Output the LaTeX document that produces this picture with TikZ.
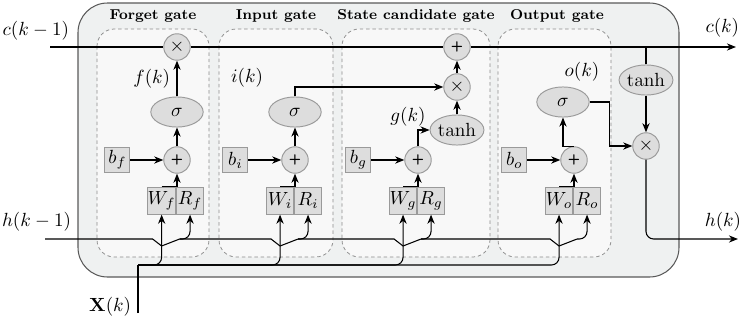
\documentclass[tikz,border=0pt]{standalone}
\usepackage{amsmath}
\usepackage{amssymb}
\usepackage{xcolor}
\usepackage{tikz}
\usetikzlibrary{shapes.geometric, arrows.meta, positioning, calc}

\definecolor{cellfill}{HTML}{EFF1F1}
\definecolor{gatefill}{HTML}{F8F8F8}
\definecolor{opfill}{HTML}{DDDDDD}
\definecolor{opline}{HTML}{9A9A9A}

\newcommand{\plussign}{{\fontsize{7.5}{7.5}\selectfont\sffamily\bfseries +}}

\begin{document}
\begin{tikzpicture}[
        x=0.525pt, y=-0.525pt,
        >={Stealth[length=4.8pt,width=3.8pt]},
        line width=0.55pt,
        % cell and gate boxes
        cellbox/.style={
            draw=black!65,
            fill=cellfill,
            rounded corners=15.5pt
        },
        gatebox/.style={
            draw=black!45,
            fill=gatefill,
            dash pattern=on 1.8pt off 1.5pt,
            rounded corners=9pt,
            line width=0.4pt
        },
        gatetitle/.style={font=\bfseries\fontsize{7.5}{9}\selectfont},
        % operations
        opcircle/.style={
            circle,
            draw=opline,
            fill=opfill,
            minimum size=13.9pt,
            inner sep=0pt,
            line width=0.5pt
        },
        actfun/.style={
            ellipse,
            draw=opline,
            fill=opfill,
            minimum width=27.5pt,
            minimum height=15.8pt,
            inner sep=0pt,
            line width=0.5pt
        },
        biasbox/.style={
            rectangle,
            draw=opline,
            fill=opfill,
            minimum size=13.1pt,
            inner sep=0.5pt,
            line width=0.5pt
        },
        weightbox/.style={
            rectangle,
            draw=opline,
            fill=opfill,
            minimum width=14.2pt,
            minimum height=14.2pt,
            inner xsep=0pt,
            inner ysep=0.5pt,
            line width=0.5pt
        },
        % connectors
        line/.style={->, black}
    ]

    \useasboundingbox (0,0) rectangle (744,326);

    % --- CELL AND GATES ---
    \draw [cellbox] (78,3) rectangle (679,277);
    \draw [gatebox] (97,29) rectangle (209,257);
    \draw [gatebox] (219,29) rectangle (333,257);
    \draw [gatebox] (342,29) rectangle (490,257);
    \draw [gatebox] (498,29) rectangle (611,257);

    \node [gatetitle] (tforget) at (153,16) {Forget gate};
    \node [gatetitle] (tinput) at (276,16) {Input gate};
    \node [gatetitle] (tstate) at (416,16) {State candidate gate};
    \node [gatetitle] (toutput) at (557,16) {Output gate};

    % --- INPUTS / OUTPUTS ---
    \coordinate (cin) at (50,47);
    \coordinate (cout) at (736,47);
    \coordinate (hin) at (45,239);
    \coordinate (hout) at (738,239);
    \coordinate (xin) at (138,313);
    \coordinate (xbus) at (138,265);

    \node [anchor=east] (ck1) at (76,31) {$c(k-1)$};
    \node [anchor=east] (hk1) at (78,222) {$h(k-1)$};
    \node [anchor=east] (ck) at (746,28) {$c(k)$};
    \node [anchor=east] (hk) at (748,222) {$h(k)$};
    \node [anchor=east] (Xk) at (138,307) {$\mathbf{X}(k)$};

    % --- FORGET GATE ---
    \node [opcircle] (xf) at (177,47) {$\times$};
    \node [actfun] (sf) at (177,112) {$\sigma$};
    \node [opcircle] (pf) at (177,160) {\plussign};
    \node [biasbox, left=17.3pt of pf] (bf) {$b_f$};
    \node [weightbox, below left=6.8pt and 0.5pt of pf.south] (Wf) {$W_f$};
    \node [weightbox, right=0pt of Wf] (Rf) {$R_f$};

    \draw [line] (bf) -- (pf);
    \draw [line] (Wf.north) -| (pf.south);
    \draw [line] (pf) -- (sf);
    \draw [line] (sf) -- node[left] {$f(k)$} (xf);

    % --- INPUT GATE ---
    \node [actfun] (si) at (295,112) {$\sigma$};
    \node [opcircle] (pi) at (295,160) {\plussign};
    \node [biasbox, left=17.3pt of pi] (bi) {$b_i$};
    \node [weightbox, below left=6.8pt and 0.5pt of pi.south] (Wi) {$W_i$};
    \node [weightbox, right=0pt of Wi] (Ri) {$R_i$};
    \node (ik) at (247,78) {$i(k)$};

    \draw [line] (bi) -- (pi);
    \draw [line] (Wi.north) -| (pi.south);
    \draw [line] (pi) -- (si);

    % --- STATE CANDIDATE GATE ---
    \node [opcircle] (pc) at (457,47) {\plussign};
    \node [opcircle] (xg) at (457,87) {$\times$};
    \node [actfun] (tg) at (457,130) {$\tanh$};
    \node [opcircle] (pg) at (418,160) {\plussign};
    \node [biasbox, left=17.3pt of pg] (bg) {$b_g$};
    \node [weightbox, below left=6.8pt and 0.5pt of pg.south] (Wg) {$W_g$};
    \node [weightbox, right=0pt of Wg] (Rg) {$R_g$};
    \node (gk) at (408,117) {$g(k)$};

    \draw [line] (bg) -- (pg);
    \draw [line] (Wg.north) -| (pg.south);
    \draw [line] (pg.north) |- (tg.west);
    \draw [line] (tg) -- (xg);
    \draw [line] (xg) -- (pc);
    \draw [line] (si.north) |- (xg.west);

    % --- OUTPUT GATE ---
    \node [actfun] (so) at (563,102) {$\sigma$};
    \node [opcircle] (po) at (574,160) {\plussign};
    \node [biasbox, left=17.3pt of po] (bo) {$b_o$};
    \node [weightbox, below left=6.8pt and 0.5pt of po.south] (Wo) {$W_o$};
    \node [weightbox, right=0pt of Wo] (Ro) {$R_o$};
    \node (ok) at (582,72) {$o(k)$};

    \draw [line] (bo) -- (po);
    \draw [line] (Wo.north) -| (po.south);
    \draw [line] (po.north) -| (so.south);

    % --- HIDDEN OUTPUT ---
    \node [actfun] (tc) at (646,80) {$\tanh$};
    \node [opcircle] (xh) at (646,146) {$\times$};

    \draw (tc.north) -- (tc.north |- cin);
    \draw [line] (tc) -- (xh);
    \draw [line] (so.east) -- ++(20,0) |- (xh.west);
    \draw [line, rounded corners=4pt] (xh.south) |- (hout);

    % --- CELL STATE LINE ---
    \draw (cin) -- (xf);
    \draw (xf) -- (pc);
    \draw [line] (pc) -- (cout);

    % --- INPUT AND HIDDEN BUSES ---
    \draw (xin) -- (xbus);
    \foreach \g in {f,i,g,o}
        \draw [line, rounded corners=4pt] (xbus) -| (W\g.south);

    \foreach \g [remember=\g as \p (initially in)] in {f,i,g,o} {
        \draw (h\p) -- ($(W\g.south |- hin)+(-9,0)$)
            -- ($(W\g.south |- hin)+(0,7)$)
            -- ($(W\g.south |- hin)+(18,0)$) coordinate (h\g);
        \draw [line, rounded corners=4pt] (h\g) -| (R\g.south);
    }

\end{tikzpicture}
\end{document}
